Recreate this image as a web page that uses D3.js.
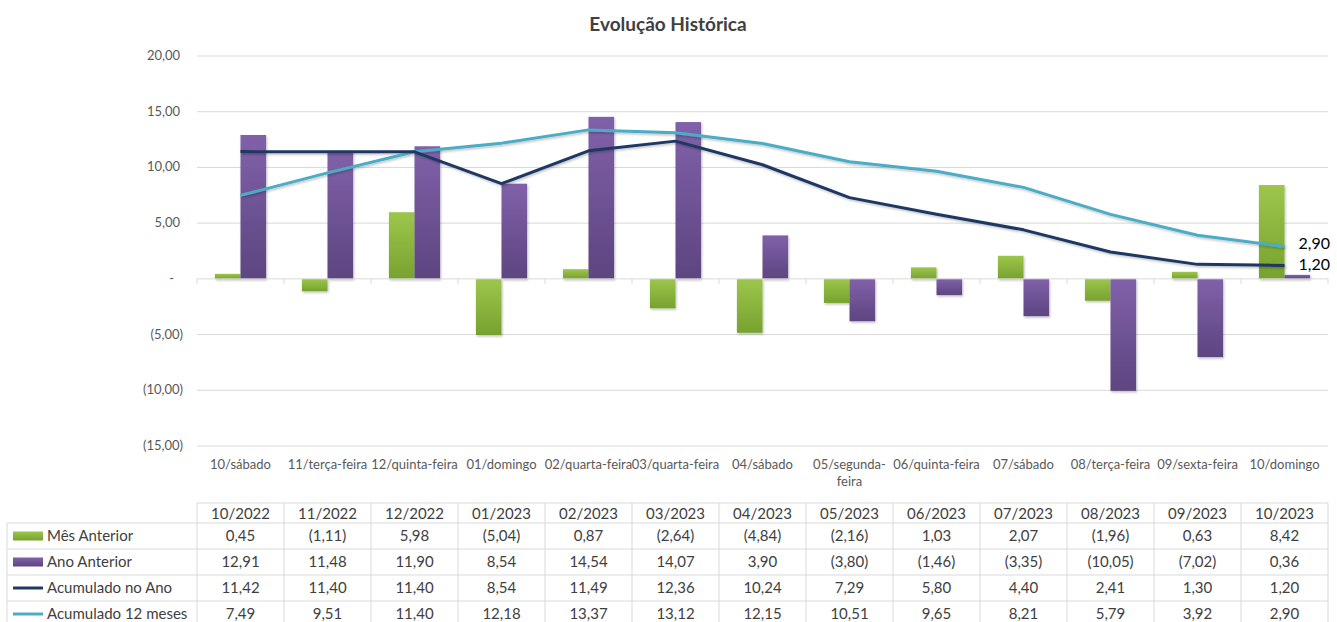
<!DOCTYPE html>
<html>
<head>
<meta charset="utf-8">
<script src="https://cdn.jsdelivr.net/npm/d3@7"></script>
<style>
  html, body { margin: 0; padding: 0; background: #fff; }
  svg { display: block; font-family: Lato, "Open Sans", sans-serif; }
</style>
</head>
<body>
<svg id="chart" width="1337" height="622"></svg>
<script>
var months = ["10/2022","11/2022","12/2022","01/2023","02/2023","03/2023","04/2023","05/2023","06/2023","07/2023","08/2023","09/2023","10/2023"];
var dayLabels = ["10/sábado","11/terça-feira","12/quinta-feira","01/domingo","02/quarta-feira","03/quarta-feira","04/sábado","05/segunda-|feira","06/quinta-feira","07/sábado","08/terça-feira","09/sexta-feira","10/domingo"];
var mesAnterior = [0.45,-1.11,5.98,-5.04,0.87,-2.64,-4.84,-2.16,1.03,2.07,-1.96,0.63,8.42];
var anoAnterior = [12.91,11.48,11.90,8.54,14.54,14.07,3.90,-3.80,-1.46,-3.35,-10.05,-7.02,0.36];
var acumAno = [11.42,11.40,11.40,8.54,11.49,12.36,10.24,7.29,5.80,4.40,2.41,1.30,1.20];
var acum12 = [7.49,9.51,11.40,12.18,13.37,13.12,12.15,10.51,9.65,8.21,5.79,3.92,2.90];
var yTicks = [20,15,10,5,0,-5,-10,-15];
var seriesNames = ["Mês Anterior","Ano Anterior","Acumulado no Ano","Acumulado 12 meses"];

var svg = d3.select("#chart");
var plotLeft = 197, plotRight = 1328, plotTop = 56, plotBottom = 446;

var x = d3.scaleBand().domain(months).range([plotLeft, plotRight]).paddingInner(0).paddingOuter(0);
var y = d3.scaleLinear().domain([-15, 20]).range([plotBottom, plotTop]);
var xs = d3.scaleBand().domain([0, 1]).range([0, x.bandwidth()]).paddingInner(0).paddingOuter(0.7);

function fmt(v) {
  if (v === 0) return "-";
  var s = d3.format(".2f")(Math.abs(v)).replace(".", ",");
  return v < 0 ? "(" + s + ")" : s;
}

// gradients
var defs = svg.append("defs");
function grad(id, c1, c2) {
  var g = defs.append("linearGradient").attr("id", id).attr("x1", 0).attr("y1", 0).attr("x2", 0).attr("y2", 1);
  g.append("stop").attr("offset", "0%").attr("stop-color", c1);
  g.append("stop").attr("offset", "100%").attr("stop-color", c2);
}
grad("gGreen", "#9cc64b", "#77a22f");
grad("gPurple", "#8161aa", "#5d4580");
var f = defs.append("filter").attr("id", "shadow").attr("x", "-20%").attr("y", "-20%").attr("width", "150%").attr("height", "150%");
f.append("feDropShadow").attr("dx", 1).attr("dy", 1.5).attr("stdDeviation", 1).attr("flood-color", "#000").attr("flood-opacity", 0.25);

// title
svg.append("text").attr("x", 668).attr("y", 31).attr("text-anchor", "middle")
  .attr("font-size", 19).attr("font-weight", "bold").attr("fill", "#404040").text("Evolução Histórica");

// gridlines
svg.append("g").selectAll("line").data(yTicks.filter(function(d){ return d !== 0; })).join("line")
  .attr("x1", plotLeft).attr("x2", plotRight).attr("y1", function(d){ return y(d); }).attr("y2", function(d){ return y(d); })
  .attr("stroke", "#d9d9d9").attr("stroke-width", 1);

// y labels
svg.append("g").selectAll("text").data(yTicks).join("text")
  .attr("x", function(d){ return d < 0 ? 183 : (d === 0 ? 174 : 180); })
  .attr("y", function(d){ return y(d) + 4; })
  .attr("text-anchor", "end").attr("font-size", 13).attr("fill", "#595959")
  .text(fmt);

// bars
var bars = svg.append("g").attr("filter", "url(#shadow)");
[mesAnterior, anoAnterior].forEach(function(vals, k){
  bars.selectAll("rect.s" + k).data(vals).join("rect").attr("class", "s" + k)
    .attr("x", function(d, i){ return x(months[i]) + xs(k); })
    .attr("width", xs.bandwidth())
    .attr("y", function(d){ return y(Math.max(0, d)); })
    .attr("height", function(d){ return Math.abs(y(d) - y(0)); })
    .attr("fill", k === 0 ? "url(#gGreen)" : "url(#gPurple)");
});

// zero axis with ticks
svg.append("line").attr("x1", plotLeft).attr("x2", plotRight).attr("y1", y(0)).attr("y2", y(0)).attr("stroke", "#d9d9d9");
svg.append("g").selectAll("line").data(d3.range(months.length + 1)).join("line")
  .attr("x1", function(i){ return plotLeft + i * x.bandwidth(); }).attr("x2", function(i){ return plotLeft + i * x.bandwidth(); })
  .attr("y1", y(0)).attr("y2", y(0) + 5).attr("stroke", "#d9d9d9");

// lines
var line = d3.line()
  .x(function(d, i){ return x(months[i]) + x.bandwidth() / 2; })
  .y(function(d){ return y(d); });
var lines = svg.append("g").attr("filter", "url(#shadow)");
lines.append("path").datum(acum12).attr("d", line).attr("fill", "none").attr("stroke", "#4bacc6")
  .attr("stroke-width", 3).attr("stroke-linejoin", "round");
lines.append("path").datum(acumAno).attr("d", line).attr("fill", "none").attr("stroke", "#1f3864")
  .attr("stroke-width", 3).attr("stroke-linejoin", "round");

// end labels
var lx = x(months[12]) + x.bandwidth() / 2 + 14;
svg.append("text").attr("x", lx).attr("y", y(acum12[12]) + 2).attr("font-size", 16).attr("fill", "#000").text(fmt(acum12[12]));
svg.append("text").attr("x", lx).attr("y", y(acumAno[12]) + 5).attr("font-size", 16).attr("fill", "#000").text(fmt(acumAno[12]));

// category labels
var cat = svg.append("g").selectAll("text").data(dayLabels).join("text")
  .attr("x", function(d, i){ return x(months[i]) + x.bandwidth() / 2; })
  .attr("y", 469).attr("text-anchor", "middle").attr("font-size", 13).attr("fill", "#595959");
cat.each(function(d){
  var parts = d.split("|");
  var t = d3.select(this);
  parts.forEach(function(p, j){
    t.append("tspan").attr("x", t.attr("x")).attr("dy", j === 0 ? 0 : 17).text(p);
  });
});

// data table
var rowTop = [503, 523, 549, 575, 601, 627];
var tbl = svg.append("g");
var gridC = "#d9d9d9";
rowTop.forEach(function(ry, r){
  tbl.append("line").attr("x1", r === 0 ? plotLeft : 7).attr("x2", plotRight).attr("y1", ry).attr("y2", ry).attr("stroke", gridC);
});
d3.range(months.length + 1).forEach(function(i){
  var vx = plotLeft + i * x.bandwidth();
  tbl.append("line").attr("x1", vx).attr("x2", vx).attr("y1", 503).attr("y2", 627).attr("stroke", gridC);
});
tbl.append("line").attr("x1", 7).attr("x2", 7).attr("y1", 523).attr("y2", 627).attr("stroke", gridC);

tbl.selectAll("text.h").data(months).join("text").attr("class", "h")
  .attr("x", function(d){ return x(d) + x.bandwidth() / 2; }).attr("y", 519)
  .attr("text-anchor", "middle").attr("font-size", 15).attr("fill", "#404040").text(function(d){ return d; });

var rows = [mesAnterior, anoAnterior, acumAno, acum12];
rows.forEach(function(vals, r){
  var cy = (rowTop[r + 1] + rowTop[r + 2]) / 2;
  tbl.selectAll("text.r" + r).data(vals).join("text").attr("class", "r" + r)
    .attr("x", function(d, i){ return x(months[i]) + x.bandwidth() / 2; }).attr("y", cy + 5)
    .attr("text-anchor", "middle").attr("font-size", 15).attr("fill", "#404040").text(fmt);
  if (r < 2) {
    tbl.append("rect").attr("x", 13).attr("y", cy - 4.5).attr("width", 30).attr("height", 9)
      .attr("fill", r === 0 ? "url(#gGreen)" : "url(#gPurple)");
  } else {
    tbl.append("line").attr("x1", 13).attr("x2", 43).attr("y1", cy).attr("y2", cy)
      .attr("stroke", r === 2 ? "#1f3864" : "#4bacc6").attr("stroke-width", 3);
  }
  tbl.append("text").attr("x", 47).attr("y", cy + 5).attr("font-size", 15).attr("fill", "#404040").text(seriesNames[r]);
});
</script>
</body>
</html>
